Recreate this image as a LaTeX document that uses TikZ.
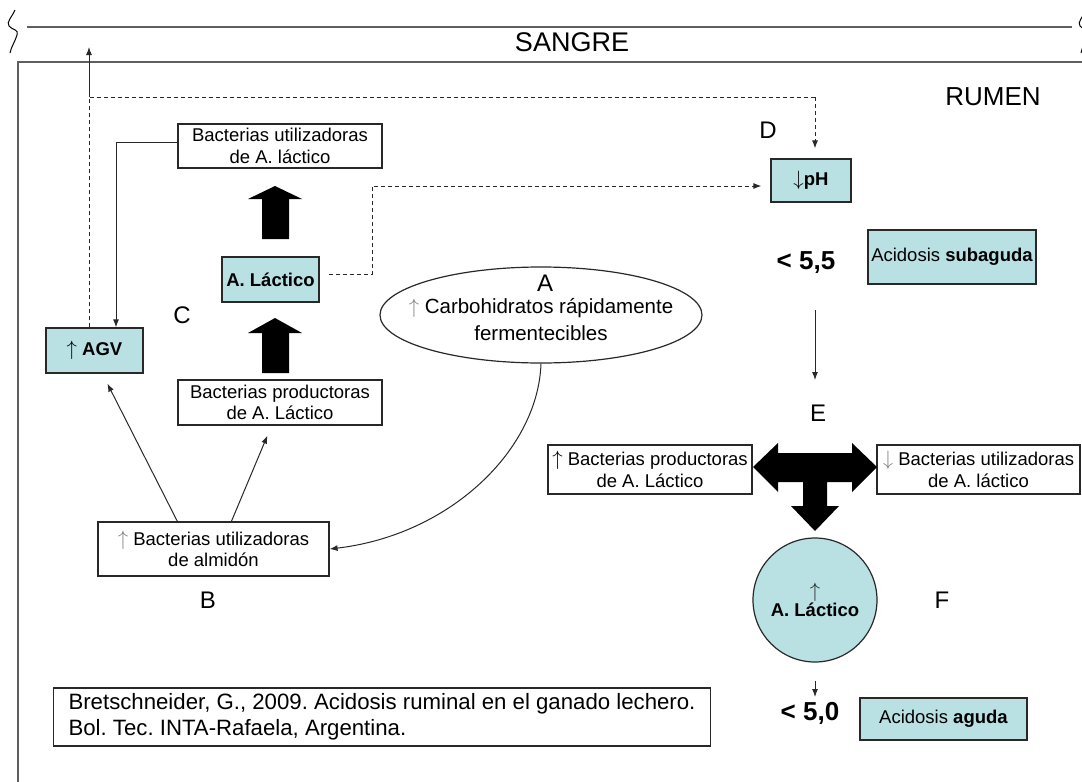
\documentclass[tikz,border=0pt]{standalone}
\usepackage{fontspec}
\setmainfont{Liberation Sans}
\usetikzlibrary{arrows.meta,calc,shapes.geometric}
\definecolor{cy}{RGB}{185,224,226}
\definecolor{framec}{RGB}{95,95,95}
\definecolor{bd}{RGB}{40,40,40}
\newcommand\myfs{\fontsize{18.5}{21.5}\selectfont}
\newcommand\myfsc{\fontsize{20.5}{27}\selectfont}
\newcommand\myfsr{\fontsize{22.2}{26}\selectfont}
\newcommand\myfsl{\fontsize{24}{28}\selectfont}
\newcommand\myup{{\fontsize{22}{22}\selectfont$\uparrow$}}
\newcommand\mydown{{\fontsize{21}{21}\selectfont$\downarrow$}}
\frenchspacing
\begin{document}
\begin{tikzpicture}[x=1pt,y=-1pt,
  box/.style={draw=bd,line width=1.2pt,inner sep=0pt,align=center,font=\myfs},
  cbox/.style={box,fill=cy},
  lbl/.style={inner sep=0pt,font=\myfsl},
  conn/.style={draw=bd,line width=1pt,-{Latex[length=8pt,width=6pt]}},
  dconn/.style={draw=bd,line width=1pt,dash pattern=on 4pt off 3pt},
  frame/.style={draw=framec,line width=2pt}]
\useasboundingbox (0,0) rectangle (1082,782);
% blood / rumen frame
\draw[frame] (27,27) -- (1072,27);
\draw[frame] (18,782) -- (18,62) -- (1082,62);
\draw[line width=1pt] (15,10) .. controls (12,17) and (6,22) .. (9,26) .. controls (12,30) and (19,29) .. (17,35) .. controls (15,42) and (11,47) .. (10,53);
\draw[line width=1pt] (1086,10) .. controls (1083,17) and (1077,22) .. (1080,26) .. controls (1083,30) and (1090,29) .. (1088,35) .. controls (1086,42) and (1082,47) .. (1081,53);
\node[inner sep=0pt,font=\fontsize{27}{30}\selectfont] (sangre) at (572,42) {SANGRE};
\node[inner sep=0pt,font=\fontsize{26}{30}\selectfont] (rumen) at (993,97) {RUMEN};
% left part
\node[box,minimum width=204pt,minimum height=44pt] (bul) at (280,146) {Bacterias utilizadoras\\de A. láctico};
\node[cbox,minimum width=97pt,minimum height=45pt,font=\myfs\bfseries] (lac) at (270.5,279.5) {A. Láctico};
\node[cbox,minimum width=97pt,minimum height=45pt,font=\myfs\bfseries] (agv) at (94.5,350.5) {\myup{} AGV};
\node[box,minimum width=204pt,minimum height=45pt] (bpr) at (280,402.5) {Bacterias productoras\\de A. Láctico};
\node[box,minimum width=231pt,minimum height=54pt] (bal) at (213.5,549) {{\color{gray}\myup} Bacterias utilizadoras\\de almidón};
\node[draw=bd,line width=1.2pt,ellipse,minimum width=322pt,minimum height=96pt,inner sep=0pt] (ell) at (541,315) {};
\node[inner sep=0pt,font=\myfsc,align=center] (carb) at (541,320) {{\color{gray}\myup} Carbohidratos rápidamente\\fermentecibles};
\node[lbl] (lA) at (545,283) {A};
\node[lbl] (lB) at (208,600) {B};
\node[lbl] (lC) at (182,315) {C};
% block arrows
\fill (248,199) -- (275,186) -- (302,199) -- (289,199) -- (289,239) -- (262,239) -- (262,199) -- cycle;
\fill (248,333) -- (275,318) -- (302,333) -- (289,333) -- (289,373) -- (262,373) -- (262,333) -- cycle;
% right part
\node[lbl] (lD) at (768,130) {D};
\node[cbox,minimum width=80pt,minimum height=43pt,font=\myfs\bfseries] (ph) at (811,180.5) {\mydown{}pH};
\node[inner sep=0pt,font=\fontsize{26}{30}\selectfont\bfseries] (n55) at (806,263) {< 5,5};
\node[cbox,minimum width=168pt,minimum height=54pt] (sub) at (952,257) {Acidosis \textbf{subaguda}};
\node[lbl] (lE) at (818,413) {E};
\node[box,minimum width=204pt,minimum height=49pt] (epr) at (650,469.5) {\myup{} Bacterias productoras\\de A. Láctico};
\node[box,minimum width=203pt,minimum height=49pt] (eut) at (978.5,469.5) {{\color{gray}\mydown} Bacterias utilizadoras\\de A. láctico};
\fill (753,467) -- (778,443) -- (778,453) -- (852,453) -- (852,443) -- (877,467) -- (852,492) -- (852,482) -- (827,482) -- (827,506) -- (839,506) -- (815,531) -- (791,506) -- (803,506) -- (803,482) -- (778,482) -- (778,492) -- cycle;
\node[circle,draw=bd,line width=1.2pt,fill=cy,minimum size=124pt,inner sep=0pt,align=center,font=\myfs] (circ) at (815,600) {{\color{bd}\myup}\\[-2pt]\textbf{A. Láctico}};
\node[lbl] (lF) at (942,600) {F};
\node[inner sep=0pt,font=\fontsize{26}{30}\selectfont\bfseries] (n50) at (810,713) {< 5,0};
\node[cbox,minimum width=167pt,minimum height=42pt] (agu) at (943.5,719) {Acidosis \textbf{aguda}};
\node[box,minimum width=657pt,minimum height=58pt,align=left,font=\myfsr] (ref) at (382,717) {Bretschneider, G., 2009. Acidosis ruminal en el ganado lechero.\\Bol. Tec. INTA-Rafaela, Argentina.};
% connectors
\coordinate (d1) at (89,97);
\coordinate (d2) at (815,97);
\coordinate (blood) at (89,47);
\draw[dconn] (agv.north -| d1) -- (d1) -- (d2);
\draw[dconn,-{Latex[length=8pt,width=6pt]},shorten >=10pt] (d2) -- (d2 |- ph.north);
\draw[conn] (d1) -- (blood);
\draw[conn] (bul.west |- 0,142) -- (116,142) -- (116,0 |- agv.north);
\draw[dconn,-{Latex[length=8pt,width=6pt]},shorten >=9pt] ($(lac.east)+(9,-5.5)$) -- (372,274) -- (372,186) -- (ph.west |- 0,186);
\draw[conn] ([xshift=80pt]bal.north west) -- ([shift={(62,10)}]agv.south west);
\draw[conn] ([xshift=134pt]bal.north west) -- ([shift={(90,10)}]bpr.south west);
\draw[conn] (ell.south) .. controls (538,450) and (450,535) .. (bal.east);
\coordinate (e1) at (815,310);
\coordinate (e2) at (815,380);
\draw[conn] (e1) -- (e2);
\coordinate (f2) at (815,697);
\draw[conn,shorten <=18pt] (circ.south) -- (f2);
\end{tikzpicture}
\end{document}
